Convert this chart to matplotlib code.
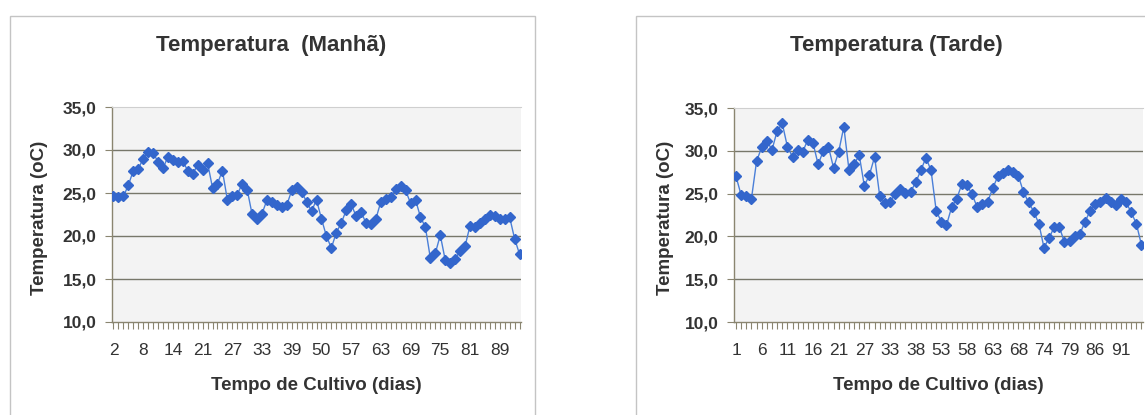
import matplotlib
matplotlib.use("Agg")
import numpy as np
import matplotlib.pyplot as plt
from matplotlib.patches import Rectangle
from matplotlib.ticker import FixedLocator

plt.rcParams["font.family"] = ["Liberation Sans", "DejaVu Sans"]

# morning series (one value per sampled day)
manha_temp = [
    24.6, 24.5, 24.6, 25.9, 27.6, 27.8, 29.0, 29.8, 29.7, 28.6,
    27.9, 29.2, 28.8, 28.6, 28.7, 27.6, 27.2, 28.3, 27.7, 28.5,
    25.6, 26.1, 27.6, 24.2, 24.7, 24.8, 26.1, 25.4, 22.5, 22.0,
    22.6, 24.2, 24.0, 23.6, 23.4, 23.6, 25.3, 25.7, 25.1, 24.0,
    22.9, 24.2, 22.0, 20.0, 18.6, 20.4, 21.5, 23.0, 23.7, 22.3,
    22.8, 21.5, 21.4, 22.0, 24.0, 24.3, 24.5, 25.5, 25.8, 25.3,
    23.8, 24.2, 22.2, 21.0, 17.4, 18.0, 20.1, 17.2, 16.9, 17.3,
    18.3, 18.8, 21.2, 21.1, 21.5, 22.0, 22.4, 22.3, 22.0, 22.0,
    22.2, 19.7, 17.9,
]
manha_dias = ["2", "8", "14", "21", "27", "33", "39", "50", "57", "63",
              "69", "75", "81", "89"]

# afternoon series
tarde_temp = [
    27.0, 24.8, 24.7, 24.4, 28.8, 30.4, 31.2, 30.1, 32.3, 33.2,
    30.5, 29.3, 30.1, 29.9, 31.3, 30.9, 28.4, 30.0, 30.5, 28.0,
    29.9, 32.8, 27.8, 28.4, 29.5, 25.9, 27.2, 29.3, 24.7, 23.9,
    24.0, 25.0, 25.5, 25.1, 25.2, 26.3, 27.7, 29.2, 27.7, 23.0,
    21.7, 21.3, 23.4, 24.4, 26.1, 26.0, 24.9, 23.4, 23.8, 24.0,
    25.6, 27.0, 27.4, 27.7, 27.5, 27.1, 25.2, 24.0, 22.9, 21.5,
    18.7, 19.8, 21.1, 21.1, 19.3, 19.5, 20.0, 20.3, 21.7, 23.0,
    23.8, 24.0, 24.5, 24.0, 23.7, 24.4, 24.0, 22.8, 21.5, 19.0,
]
tarde_dias = ["1", "6", "11", "16", "21", "27", "33", "38", "53", "58",
              "63", "68", "74", "79", "86", "91"]

yticks = [10, 15, 20, 25, 30, 35]

W, H = 1145, 415
TXT = "#333333"
GRID = "#77776a"
AXC = "#8a8570"


def px_axes(fig, x0, y0, x1, y1):
    return fig.add_axes([x0 / W, 1 - y1 / H, (x1 - x0) / W, (y1 - y0) / H])


def frame(fig, x0, y0, x1, y1):
    fig.patches.append(Rectangle((x0 / W, 1 - y1 / H), (x1 - x0) / W, (y1 - y0) / H,
                                 transform=fig.transFigure, fill=False,
                                 edgecolor="#c4c4c4", lw=1.0))


def draw(ax, temps, labels, step, title, title_x, xlim, ylab_x):
    x = np.arange(len(temps))
    ax.set_facecolor("#f3f3f3")
    for v in yticks[1:-1]:
        ax.axhline(v, color=GRID, lw=1.0, zorder=1)
    ax.plot(x, temps, color="#4a7fd8", lw=1.0, marker="D", ms=5,
            mfc="#3366cc", mec="#3366cc", zorder=3)
    ax.set_ylim(yticks[0], yticks[-1])
    ax.set_xlim(*xlim)
    ax.set_yticks(yticks)
    ax.set_yticklabels([f"{v:.1f}".replace(".", ",") for v in yticks],
                       fontsize=12.5, fontweight="bold", color=TXT)
    ax.xaxis.set_major_locator(FixedLocator(np.arange(0, len(labels) * step, step)))
    ax.set_xticklabels(labels, fontsize=12.5, color=TXT)
    ax.xaxis.set_minor_locator(FixedLocator(x))
    ax.tick_params(axis="x", which="both", direction="out", length=5, width=0.8,
                   color=AXC, pad=10)
    ax.tick_params(axis="y", direction="out", length=5, width=0.8, color=AXC, pad=6)
    ax.spines["right"].set_visible(False)
    ax.spines["top"].set_color("#cfcfcf")
    ax.spines["top"].set_linestyle((0, (1, 1)))
    for s in ("left", "bottom"):
        ax.spines[s].set_color(AXC)
        ax.spines[s].set_linewidth(1.0)
    ax.set_xlabel("Tempo de Cultivo (dias)", fontsize=13.5, fontweight="bold",
                  color=TXT, labelpad=14)
    fig = ax.figure
    fig.text(ylab_x / W, 1 - 218 / H, "Temperatura (oC)", rotation=90,
             ha="center", va="center", fontsize=13.5, fontweight="bold", color=TXT)
    fig.text(title_x / W, 1 - 45 / H, title, ha="center", va="center",
             fontsize=16, fontweight="bold", color=TXT)


fig = plt.figure(figsize=(W / 100, H / 100), dpi=100)
frame(fig, 10, 16, 535, 430)
frame(fig, 636, 16, 1161, 430)

ax1 = px_axes(fig, 112, 107, 521, 322)
draw(ax1, manha_temp, manha_dias, 6, "Temperatura  (Manhã)", 271, (-0.3, 82.3), 40)

ax2 = px_axes(fig, 734, 108, 1143, 322)
draw(ax2, tarde_temp, tarde_dias, 5, "Temperatura (Tarde)", 896, (-0.4, 79.3), 665)

fig.savefig("out.png", dpi=100)
